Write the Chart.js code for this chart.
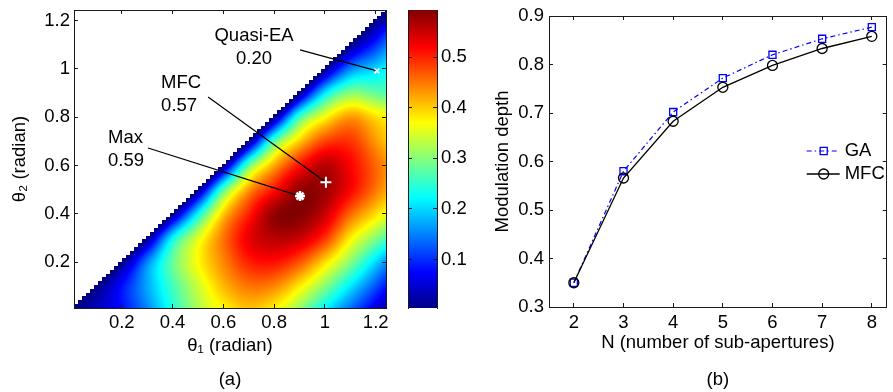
<!DOCTYPE html>
<html>
<head>
<meta charset="utf-8">
<script src="https://cdn.jsdelivr.net/npm/chart.js@4.4.1/dist/chart.umd.min.js"></script>
<style>
  body { margin: 0; background: #fff; }
  #wrap { position: relative; width: 893px; height: 392px; overflow: hidden; }
  .box { position: absolute; top: 0; height: 392px; }
  #boxA { left: 0; width: 400px; }
  #boxC { left: 400px; width: 75px; }
  #boxB { left: 450px; width: 443px; }
</style>
</head>
<body>
<div id="wrap">
  <div class="box" id="boxA"><canvas id="mapChart"></canvas></div>
  <div class="box" id="boxC"><canvas id="barChart"></canvas></div>
  <div class="box" id="boxB"><canvas id="depthChart"></canvas></div>
</div>
<script>
// (a) modulation depth over theta1 / theta2 on a 0.1 rad grid
// rows: theta2 = 0 .. 1.2, columns: theta1 = 0 .. 1.2 (null above the diagonal)
const thetaNodes = [0, 0.1, 0.2, 0.3, 0.4, 0.5, 0.6, 0.7, 0.8, 0.9, 1.0, 1.1, 1.2];
const depthGrid = [
    [0, 0.04, 0.08, 0.15, 0.24, 0.32, 0.37, 0.40, 0.37, 0.30, 0.21, 0.13, 0.05],
    [null, 0, 0.08, 0.17, 0.26, 0.34, 0.41, 0.45, 0.44, 0.38, 0.30, 0.21, 0.12],
    [null, null, 0, 0.15, 0.28, 0.37, 0.44, 0.50, 0.51, 0.47, 0.39, 0.30, 0.20],
    [null, null, null, 0, 0.22, 0.35, 0.45, 0.53, 0.56, 0.55, 0.49, 0.38, 0.30],
    [null, null, null, null, 0, 0.22, 0.40, 0.50, 0.58, 0.59, 0.55, 0.46, 0.39],
    [null, null, null, null, null, 0, 0.27, 0.43, 0.51, 0.58, 0.575, 0.52, 0.45],
    [null, null, null, null, null, null, 0, 0.28, 0.42, 0.51, 0.56, 0.52, 0.46],
    [null, null, null, null, null, null, null, 0, 0.27, 0.40, 0.48, 0.49, 0.43],
    [null, null, null, null, null, null, null, null, 0, 0.26, 0.37, 0.43, 0.39],
    [null, null, null, null, null, null, null, null, null, 0, 0.21, 0.30, 0.28],
    [null, null, null, null, null, null, null, null, null, null, 0, 0.15, 0.20],
    [null, null, null, null, null, null, null, null, null, null, null, 0, 0.10],
    [null, null, null, null, null, null, null, null, null, null, null, null, 0]
];
const thetaTicks = [0.2, 0.4, 0.6, 0.8, 1, 1.2];
const colorTicks = [0.1, 0.2, 0.3, 0.4, 0.5];

const markNames = ['Max', 'MFC', 'Quasi-EA'];
const markValues = [0.59, 0.57, 0.20];
const markTheta1 = [0.902, 1.004, 1.205];
const markTheta2 = [0.474, 0.531, 0.992];

// (b) modulation depth vs number of sub-apertures
const nValues = [2, 3, 4, 5, 6, 7, 8];
const gaDepth = [0.350, 0.580, 0.702, 0.772, 0.820, 0.853, 0.877];
const mfcDepth = [0.350, 0.566, 0.683, 0.753, 0.798, 0.833, 0.858];
const nTicks = [2, 3, 4, 5, 6, 7, 8];
const depthTicks = [0.3, 0.4, 0.5, 0.6, 0.7, 0.8, 0.9];

// colour limits of the map
const cMin = 0, cMax = 0.593;
// size of the map cells (staircase along the diagonal)
const cellStart = 0.012, cellStep = 0.0157;

// where the callouts sit (data units of panel a)
const callouts = [
    { text: { x: 0.146, y: 0.695 }, align: 'left', from: { x: 0.3035, y: 0.673 } },
    { text: { x: 0.355, y: 0.921 }, align: 'left', from: { x: 0.54, y: 0.884 } },
    { text: { x: 0.721, y: 1.117 }, align: 'center', from: { x: 0.902, y: 1.079 } }
];

const fontFamily = "'Liberation Sans', Arial, sans-serif";
const fontSize = 18.5;

Chart.defaults.font.family = fontFamily;
Chart.defaults.font.size = fontSize;
Chart.defaults.color = '#000';
Chart.defaults.animation = false;
Chart.defaults.events = [];
Chart.defaults.plugins.legend.display = false;
Chart.defaults.plugins.tooltip.enabled = false;

const axisColor = '#1a1a1a';

function jet(t) {
    t = Math.max(0, Math.min(1, t));
    const f = c => Math.round(255 * Math.max(0, Math.min(1, 1.5 - Math.abs(4 * t - c))));
    return [f(3), f(2), f(1)];
}

// grid value, mirrored with a sign flip above the diagonal, straight-line extended past the edges
function gridNode(i, j) {
    const n = thetaNodes.length - 1;
    if (i < 0) return gridNode(0, j) + i * (gridNode(1, j) - gridNode(0, j));
    if (i > n) return gridNode(n, j) + (i - n) * (gridNode(n, j) - gridNode(n - 1, j));
    if (j < 0) return gridNode(i, 0) + j * (gridNode(i, 1) - gridNode(i, 0));
    if (j > n) return gridNode(i, n) + (j - n) * (gridNode(i, n) - gridNode(i, n - 1));
    return j <= i ? depthGrid[j][i] : -depthGrid[i][j];
}

function crWeights(t) {
    const t2 = t * t, t3 = t2 * t;
    return [(-t3 + 2 * t2 - t) / 2, (3 * t3 - 5 * t2 + 2) / 2, (-3 * t3 + 4 * t2 + t) / 2, (t3 - t2) / 2];
}

function depthAt(t1, t2) {
    const step = thetaNodes[1] - thetaNodes[0];
    const a = t1 / step, b = t2 / step;
    const i = Math.floor(a), j = Math.floor(b);
    const wx = crWeights(a - i), wy = crWeights(b - j);
    let v = 0;
    for (let m = 0; m < 4; m++)
        for (let n = 0; n < 4; n++)
            v += wx[m] * wy[n] * gridNode(i - 1 + m, j - 1 + n);
    return Math.max(0, v);
}

function edgeAxis(position, min, max, ticks, size, labels, pad) {
    const horizontal = position === 'top' || position === 'bottom';
    return {
        type: 'linear',
        position,
        min,
        max,
        afterBuildTicks: s => { s.ticks = ticks.map(v => ({ value: v })); },
        afterFit: s => {
            if (horizontal) s.height = size; else s.width = size;
            s.paddingTop = s.paddingBottom = s.paddingLeft = s.paddingRight = 0;
        },
        grid: { drawOnChartArea: false, tickLength: -4, color: axisColor, lineWidth: 1 },
        border: { color: axisColor, width: 1 },
        ticks: { display: labels, padding: pad || 8, autoSkip: false, maxRotation: 0, callback: v => String(v) }
    };
}

const heatLayer = {
    id: 'heatLayer',
    beforeDraw(chart) {
        const { ctx, chartArea: a, scales: { x, y } } = chart;
        const left = Math.round(a.left), top = Math.round(a.top);
        const w = Math.round(a.right) - left, h = Math.round(a.bottom) - top;
        const img = ctx.createImageData(w, h);
        for (let py = 0; py < h; py++) {
            const t2 = y.getValueForPixel(top + py + 0.5);
            const k2 = Math.floor((t2 - cellStart) / cellStep);
            for (let px = 0; px < w; px++) {
                const t1 = x.getValueForPixel(left + px + 0.5);
                const k1 = Math.floor((t1 - cellStart) / cellStep);
                if (k2 > k1) continue;
                const v = depthAt(t1, t2);
                const c = jet((v - cMin) / (cMax - cMin));
                const o = 4 * (py * w + px);
                img.data[o] = c[0];
                img.data[o + 1] = c[1];
                img.data[o + 2] = c[2];
                img.data[o + 3] = 255;
            }
        }
        ctx.putImageData(img, left, top);
    }
};

const calloutText = {
    id: 'calloutText',
    afterDatasetsDraw(chart) {
        const { ctx, scales: { x, y } } = chart;
        ctx.save();
        ctx.fillStyle = '#000';
        ctx.font = fontSize + 'px ' + fontFamily;
        ctx.textBaseline = 'alphabetic';
        callouts.forEach((c, i) => {
            ctx.textAlign = c.align;
            const px = x.getPixelForValue(c.text.x), py = y.getPixelForValue(c.text.y);
            ctx.fillText(markNames[i], px, py);
            ctx.fillText(markValues[i].toFixed(2), px, py + 23);
        });
        ctx.restore();
    }
};

const colorbarLayer = {
    id: 'colorbarLayer',
    beforeDraw(chart) {
        const { ctx, chartArea: a, scales: { y } } = chart;
        for (let py = Math.floor(a.top); py < a.bottom; py++) {
            const c = jet((y.getValueForPixel(py + 0.5) - cMin) / (cMax - cMin));
            ctx.fillStyle = 'rgb(' + c.join(',') + ')';
            ctx.fillRect(a.left, py, a.right - a.left, 1);
        }
    }
};

const legendRows = {
    id: 'legendRows',
    afterDatasetsDraw(chart) {
        const { ctx, chartArea: a } = chart;
        ctx.save();
        chart.data.datasets.forEach((ds, i) => {
            const yy = a.top + 135 + i * 23;
            ctx.strokeStyle = ds.borderColor;
            ctx.lineWidth = ds.borderWidth;
            ctx.setLineDash(ds.borderDash || []);
            ctx.beginPath();
            ctx.moveTo(a.right - 80, yy);
            ctx.lineTo(a.right - 47, yy);
            ctx.stroke();
            ctx.setLineDash([]);
            ctx.lineWidth = ds.pointBorderWidth;
            ctx.fillStyle = ds.pointBackgroundColor;
            ctx.beginPath();
            const mx = a.right - 63;
            if (ds.pointStyle === 'rect') {
                const s = ds.pointRadius * Math.SQRT1_2;
                ctx.rect(mx - s, yy - s, 2 * s, 2 * s);
            } else {
                ctx.arc(mx, yy, ds.pointRadius, 0, 2 * Math.PI);
            }
            ctx.fill();
            ctx.stroke();
            ctx.fillStyle = '#000';
            ctx.font = fontSize + 'px ' + fontFamily;
            ctx.textAlign = 'left';
            ctx.textBaseline = 'middle';
            ctx.fillText(ds.label, a.right - 42, yy);
        });
        ctx.restore();
    }
};

const markStyles = [
    { pointStyle: 'star', pointRadius: 5, pointBorderWidth: 2.5 },
    { pointStyle: 'cross', pointRadius: 5.5, pointBorderWidth: 2 },
    { pointStyle: 'crossRot', pointRadius: 3.5, pointBorderWidth: 1.5 }
];

const markSets = markNames.map((n, i) => Object.assign({
    label: n,
    data: [{ x: markTheta1[i], y: markTheta2[i] }],
    pointBorderColor: '#fff',
    pointBackgroundColor: '#fff'
}, markStyles[i]));

const leaderSets = callouts.map((c, i) => ({
    data: [c.from, { x: markTheta1[i], y: markTheta2[i] }],
    showLine: true,
    borderColor: '#000',
    borderWidth: 1.2,
    pointRadius: 0
}));

new Chart(document.getElementById('mapChart'), {
    type: 'scatter',
    data: { datasets: markSets.concat(leaderSets) },
    options: {
        devicePixelRatio: 1,
        maintainAspectRatio: false,
        layout: { padding: { left: 0, top: 10, right: 14, bottom: 1 } },
        plugins: {
            title: { display: true, text: '(a)', position: 'bottom', fullSize: false, padding: 0, font: { size: fontSize, weight: 'normal' } }
        },
        scales: {
            x: Object.assign(edgeAxis('bottom', 0.012, 1.2405, thetaTicks, 60.8, true, 8.2), {
                title: { display: true, text: 'θ₁ (radian)', padding: { top: 0, bottom: 11.8 } }
            }),
            y: Object.assign(edgeAxis('left', 0.011, 1.244, thetaTicks, 74, true, 8), {
                title: { display: true, text: 'θ₂ (radian)', padding: { top: 8.9, bottom: 0 } }
            }),
            x2: edgeAxis('top', 0.012, 1.2405, thetaTicks, 0, false),
            y2: edgeAxis('right', 0.011, 1.244, thetaTicks, 0, false)
        }
    },
    plugins: [heatLayer, calloutText]
});

new Chart(document.getElementById('barChart'), {
    type: 'scatter',
    data: { datasets: [] },
    options: {
        devicePixelRatio: 1,
        maintainAspectRatio: false,
        layout: { padding: { left: 8, top: 10, right: 0, bottom: 84 } },
        scales: {
            x: { display: false, min: 0, max: 1 },
            y: edgeAxis('right', 0.004, 0.593, colorTicks, 38, true, 8),
            y2: edgeAxis('left', 0.004, 0.593, colorTicks, 0, false)
        }
    },
    plugins: [colorbarLayer]
});

new Chart(document.getElementById('depthChart'), {
    type: 'scatter',
    data: {
        datasets: [{
                label: 'GA',
                order: 1,
                data: nValues.map((n, i) => ({ x: n, y: gaDepth[i] })),
                showLine: true,
                borderColor: '#0000ff',
                borderWidth: 1.2,
                borderDash: [5, 3, 1.5, 3],
                pointStyle: 'rect',
                pointRadius: 5,
                pointBorderWidth: 1.3,
                pointBorderColor: '#0000ff',
                pointBackgroundColor: 'rgba(255,255,255,0)'
            },
            {
                label: 'MFC',
                order: 0,
                data: nValues.map((n, i) => ({ x: n, y: mfcDepth[i] })),
                showLine: true,
                borderColor: '#000',
                borderWidth: 1.3,
                pointStyle: 'circle',
                pointRadius: 5,
                pointBorderWidth: 1.3,
                pointBorderColor: '#000',
                pointBackgroundColor: 'rgba(255,255,255,0)'
            }
        ]
    },
    options: {
        devicePixelRatio: 1,
        maintainAspectRatio: false,
        layout: { padding: { left: 0, top: 16, right: 2, bottom: 1 } },
        plugins: {
            title: { display: true, text: '(b)', position: 'bottom', fullSize: false, padding: 0, font: { size: fontSize, weight: 'normal' } }
        },
        scales: {
            x: Object.assign(edgeAxis('bottom', 1.5, 8.3, nTicks, 61.8, true, 8.5), {
                title: { display: true, text: 'N (number of sub-apertures)', padding: { top: 0, bottom: 14.8 } }
            }),
            y: Object.assign(edgeAxis('left', 0.3, 0.9, depthTicks, 99, true, 9), {
                title: { display: true, text: 'Modulation depth', padding: { top: 41.9, bottom: 0 } }
            }),
            x2: edgeAxis('top', 1.5, 8.3, nTicks, 0, false),
            y2: edgeAxis('right', 0.3, 0.9, depthTicks, 0, false)
        }
    },
    plugins: [legendRows]
});
</script>
</body>
</html>
